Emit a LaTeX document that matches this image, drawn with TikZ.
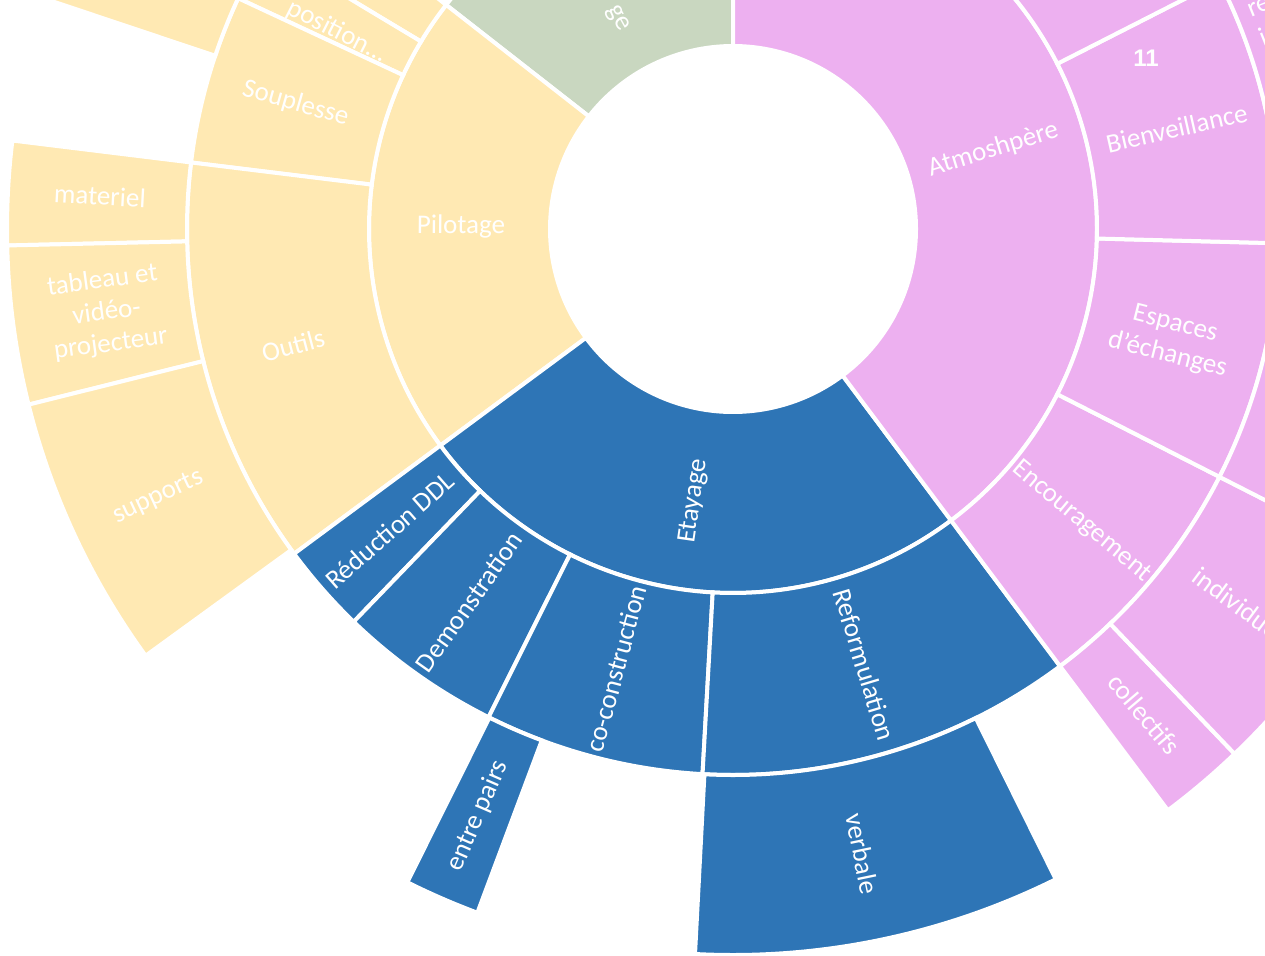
\documentclass[tikz,border=0pt]{standalone}
\usepackage{fontspec}
\setmainfont{Carlito}
\newfontfamily\slidefont{Liberation Sans}
\definecolor{pilotyellow}{HTML}{FFE9B3}
\definecolor{etayblue}{HTML}{2E75B6}
\definecolor{atmopink}{HTML}{EDB0F0}
\definecolor{topgreen}{HTML}{C9D7C0}
% ring piece: inner radius, outer radius, start angle, end angle
\newcommand{\ringpart}[4]{(#3:#1) arc[start angle=#3,end angle=#4,radius=#1]
  -- (#4:#2) arc[start angle=#4,end angle=#3,radius=#2] -- cycle}
\begin{document}
\begin{tikzpicture}
	[x=1pt,y=1pt,
	 part/.style={fill=#1,draw=white,line width=4pt},
	 lbl/.style={text=white,font=\fontsize{27}{32}\selectfont,align=center,inner sep=0pt}]
	\useasboundingbox (0,0) rectangle (1265,-955);
	\clip (0,0) rectangle (1265,-955);
	\begin{scope}[shift={(733,-229)}]
	% inner ring
	\filldraw[part=topgreen] \ringpart{183}{364}{90}{142};
	\filldraw[part=pilotyellow] \ringpart{183}{364}{142}{216.5};
	\filldraw[part=etayblue] \ringpart{183}{364}{216.5}{306.8};
	\filldraw[part=atmopink] \ringpart{183}{364}{306.8}{450};
	% middle ring
	\filldraw[part=pilotyellow] \ringpart{364}{546}{142}{149};
	\filldraw[part=pilotyellow] \ringpart{364}{546}{149}{155};
	\filldraw[part=pilotyellow] \ringpart{364}{546}{155}{173};
	\filldraw[part=pilotyellow] \ringpart{364}{546}{173}{216.5};
	\filldraw[part=etayblue] \ringpart{364}{546}{216.5}{226};
	\filldraw[part=etayblue] \ringpart{364}{546}{226}{243.4};
	\filldraw[part=etayblue] \ringpart{364}{546}{243.4}{266.8};
	\filldraw[part=etayblue] \ringpart{364}{546}{266.8}{306.8};
	\filldraw[part=atmopink] \ringpart{364}{546}{306.8}{333};
	\filldraw[part=atmopink] \ringpart{364}{546}{333}{358.5};
	\filldraw[part=atmopink] \ringpart{364}{546}{358.5}{387};
	\filldraw[part=atmopink] \ringpart{364}{546}{387}{420};
	% outer ring
	\filldraw[part=pilotyellow] \ringpart{546}{726}{155}{161.5};
	\filldraw[part=pilotyellow] \ringpart{546}{726}{173}{181.3};
	\filldraw[part=pilotyellow] \ringpart{546}{726}{181.3}{194};
	\filldraw[part=pilotyellow] \ringpart{546}{726}{194}{216};
	\filldraw[part=etayblue] \ringpart{546}{730}{243.5}{249.5};
	\filldraw[part=etayblue] \ringpart{546}{726}{267}{296.4};
	\filldraw[part=atmopink] \ringpart{546}{726}{306.8}{313.7};
	\filldraw[part=atmopink] \ringpart{546}{726}{313.7}{333};
	\filldraw[part=atmopink] \ringpart{546}{726}{333}{358.5};
	\filldraw[part=atmopink] \ringpart{546}{726}{358.5}{373};
	\filldraw[part=atmopink] \ringpart{546}{726}{373}{387};
	% labels
	\node[lbl,rotate=-61] (green) at (118.7:240) {ge};
	\node[lbl,rotate=-0.5] (pilotage) at (179.5:272) {Pilotage};
	\node[lbl,rotate=81.8] (etayage) at (261.8:275) {Etayage};
	\node[lbl,rotate=17] (atmo) at (17:272) {Atmoshpère};
	\node[lbl,rotate=-27] (dispo) at (153.5:442) {position...};
	\node[lbl,rotate=-16] (souplesse) at (164:455) {Souplesse};
	\node[lbl,rotate=14.8] (outils) at (194.8:455) {Outils};
	\node[lbl,rotate=41.3] (reduction) at (221.3:457) {Réduction DDL};
	\node[lbl,rotate=54.7] (demo) at (234.7:457) {Demonstration};
	\node[lbl,rotate=75.1] (coconst) at (255.1:455) {co-construction};
	\node[lbl,rotate=-73.2] (reform) at (286.8:455) {Reformulation};
	\node[lbl,rotate=-40] (encour) at (320:455) {Encouragement};
	\node[lbl,rotate=-14.2] (espaces) at (345.8:452) {Espaces\\d'échanges};
	\node[lbl,rotate=12.8] (bienv) at (12.8:455) {Bienveillance};
	\node[lbl,rotate=-3] (materiel) at (177:634) {materiel};
	\node[lbl,rotate=7.6] (tableau) at (187.6:632) {tableau et\\vidéo-\\projecteur};
	\node[lbl,rotate=25] (supports) at (205:634) {supports};
	\node[lbl,rotate=66.5] (pairs) at (246.5:640) {entre pairs};
	\node[lbl,rotate=-78.3] (verbale) at (281.7:638) {verbale};
	\node[lbl,rotate=-49.7] (collectifs) at (310.3:636) {collectifs};
	\node[lbl,rotate=-36.6] (individus) at (323.4:636) {individuels};
	\node[lbl,rotate=22,align=left,anchor=north west] (rel) at (23.6:560) {re\\i};
	\end{scope}
	\node[text=white,inner sep=0pt,font=\slidefont\bfseries\fontsize{24}{28}\selectfont] (slidenum) at (1146,-58) {11};
\end{tikzpicture}
\end{document}
